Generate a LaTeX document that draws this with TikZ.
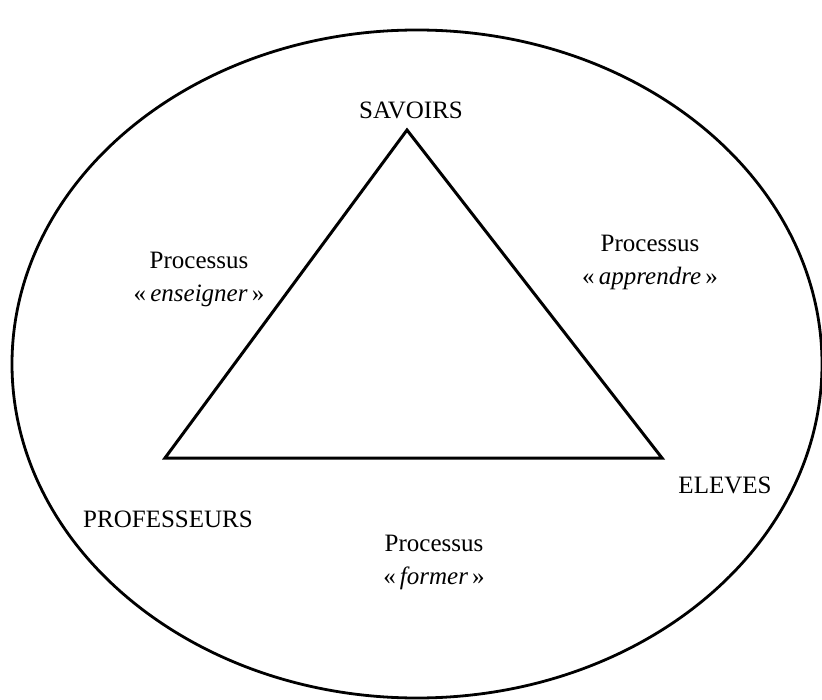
\documentclass[tikz,border=0pt]{standalone}
\usepackage{fontspec}
\setmainfont{Liberation Serif}

\begin{document}
\begin{tikzpicture}[x=1pt,y=-1pt,font=\fontsize{25}{33}\selectfont]
\useasboundingbox (0,0) rectangle (822,700);
\draw[line width=2.8pt] (417,364) ellipse [x radius=405pt, y radius=334pt];
\foreach \x/\y/\n in {407/130/s, 165/458/p, 662/458/e}
  \coordinate (\n) at (\x,\y);
\draw[line width=3pt,line join=miter] (s) -- (e) -- (p) -- cycle;

\foreach \x/\y/\n/\t in {411/110/savoirs/SAVOIRS, 168/519/profs/PROFESSEURS, 725/485/eleves/ELEVES}
  \node (\n) at (\x,\y) {\t};
\foreach \x/\y/\n/\t in {199/279/enseigner/enseigner, 650/262/apprendre/apprendre, 434/562/former/former}
  \node[align=center] (\n) at (\x,\y) {Processus\\«\,\textit{\t}\,»};
\end{tikzpicture}
\end{document}
